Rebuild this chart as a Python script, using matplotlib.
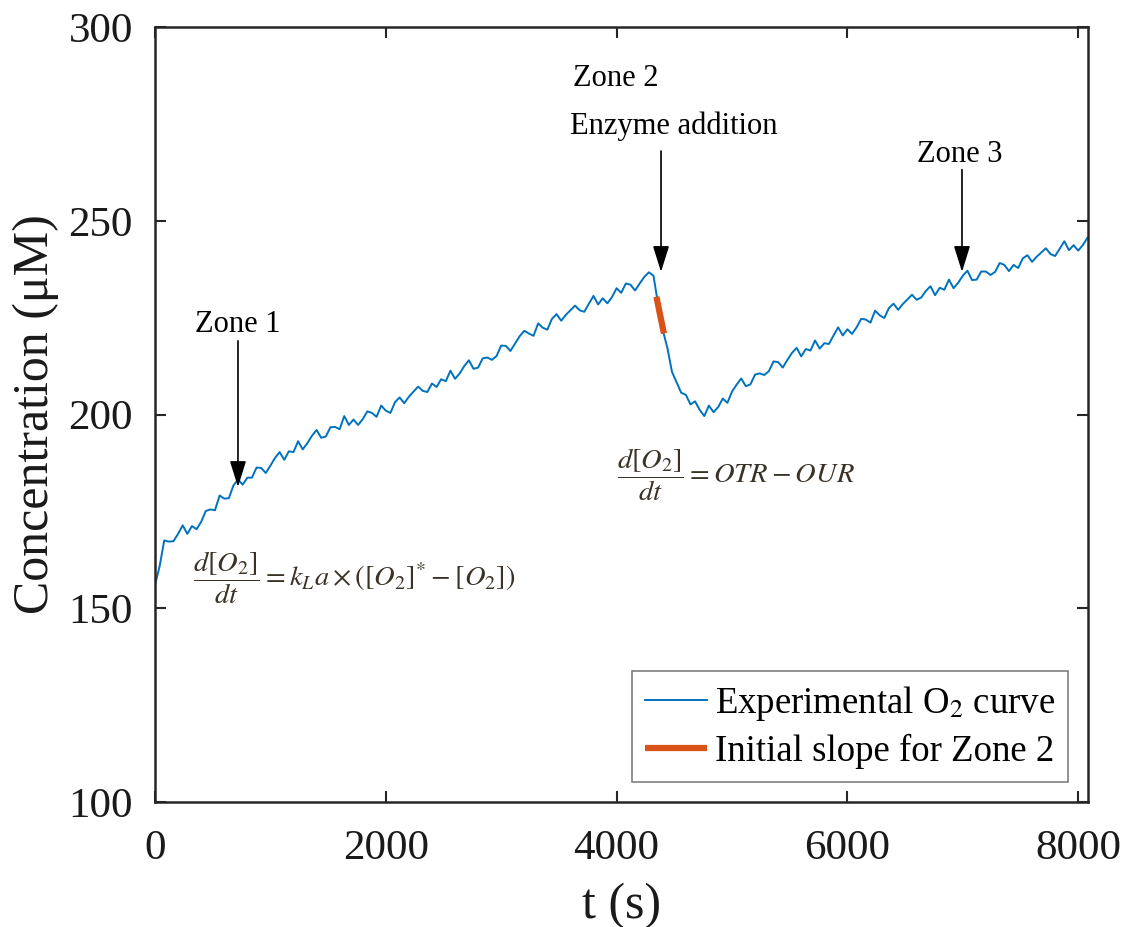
import numpy as np
import matplotlib
matplotlib.use("Agg")
import matplotlib.pyplot as plt

# ---------------- data ----------------
t_step = 40
o2_conc = [
    156.0, 160.8, 167.5, 167.2, 167.3, 169.2, 171.4, 169.2, 171.2, 170.4,
    172.3, 175.1, 175.5, 175.3, 179.1, 178.3, 178.4, 181.7, 183.2, 181.9,
    183.7, 183.7, 186.3, 186.2, 184.9, 186.8, 188.8, 190.3, 188.3, 190.5,
    190.3, 193.1, 191.0, 192.6, 194.5, 196.0, 194.0, 194.3, 196.7, 196.8,
    196.2, 199.6, 197.3, 198.7, 197.3, 198.8, 200.8, 200.4, 199.4, 202.3,
    201.0, 200.4, 203.2, 204.4, 202.9, 204.6, 205.9, 207.2, 206.1, 205.8,
    208.0, 207.1, 209.1, 208.6, 211.3, 209.2, 210.6, 212.5, 214.0, 211.8,
    212.1, 214.5, 214.7, 214.1, 215.1, 217.8, 217.7, 216.4, 218.3, 220.2,
    221.6, 220.9, 220.3, 223.5, 222.4, 221.9, 224.7, 225.9, 224.2, 225.7,
    226.9, 228.1, 226.9, 226.5, 228.6, 230.6, 228.4, 230.0, 228.7, 230.3,
    232.6, 231.4, 233.8, 233.5, 232.0, 233.8, 235.5, 236.7, 235.8, 228.3,
    221.8, 217.2, 211.0, 208.3, 205.6, 205.1, 202.6, 203.4, 201.2, 199.6,
    202.3, 200.6, 201.9, 204.1, 203.0, 205.9, 207.7, 209.3, 207.3, 207.8,
    210.3, 210.6, 210.2, 211.2, 213.7, 213.5, 212.1, 214.1, 215.9, 217.2,
    215.0, 216.9, 216.5, 219.1, 217.0, 218.4, 218.2, 220.4, 222.5, 220.4,
    222.0, 220.8, 222.5, 224.7, 224.5, 223.7, 226.8, 225.6, 224.9, 227.5,
    228.6, 227.0, 228.5, 229.7, 230.9, 229.6, 230.2, 231.9, 233.1, 230.8,
    232.7, 232.2, 234.8, 232.6, 234.0, 235.8, 237.1, 234.7, 234.8, 236.9,
    236.9, 236.0, 236.8, 239.1, 238.6, 237.0, 238.6, 237.8, 240.3, 241.1,
    239.4, 240.7, 241.8, 242.9, 241.4, 240.9, 242.8, 244.7, 242.4, 243.7,
    242.3, 243.7, 245.6,
]
t_sec = np.arange(len(o2_conc)) * t_step

slope_t = [4345, 4410]
slope_y = [230.4, 220.9]

zone_labels = ["Zone 1", "Zone 2", "Enzyme addition", "Zone 3"]
x_ticks = [0, 2000, 4000, 6000, 8000]
y_ticks = [100, 150, 200, 250, 300]

# ---------------- style ----------------
plt.rcParams['font.family'] = ['Liberation Serif', 'DejaVu Serif']
plt.rcParams['mathtext.fontset'] = 'stix'

fig = plt.figure(figsize=(11.25, 9.27), dpi=100)
ax = fig.add_axes([155/1125, 1 - 802/927, (1088 - 155)/1125, (802 - 27)/927])

blue = '#0072BD'
orange = '#D95319'

ax.plot(t_sec, o2_conc, color=blue, lw=1.4, label=r'Experimental O$_2$ curve')
ax.plot(slope_t, slope_y, color=orange, lw=4.5, solid_capstyle='butt',
        label='Initial slope for Zone 2')

ax.set_xlim(0, 8085)
ax.set_ylim(100, 300)
ax.set_xticks(x_ticks)
ax.set_yticks(y_ticks)
ax.tick_params(direction='in', length=8, width=1.5, top=True, right=True,
               labelsize=31, color='#262626', labelcolor='#1a1a1a')
ax.tick_params(axis='x', pad=20)
ax.tick_params(axis='y', pad=16)
for sp in ax.spines.values():
    sp.set_linewidth(1.8)
    sp.set_color('#262626')

ax.set_xlabel('t (s)', fontsize=36, color='#1a1a1a', labelpad=10)
ax.set_ylabel('Concentration (μM)', fontsize=36, color='#1a1a1a', labelpad=7)

leg = ax.legend(loc='lower right', fontsize=26.5, frameon=True, fancybox=False,
                framealpha=1, edgecolor='#7f7f7f', handlelength=1.7,
                borderaxespad=0.55, labelspacing=0.3, handletextpad=0.2,
                borderpad=0.35)
leg.get_frame().set_linewidth(1.2)

# annotations
txt_kw = dict(fontsize=22, color='black')
ax.text(719, 223.3, zone_labels[0], ha='center', va='center', **txt_kw)
ax.text(3620, 286.6, zone_labels[1], ha='left', va='center', **txt_kw)
ax.text(3595, 274.3, zone_labels[2], ha='left', va='center', **txt_kw)
ax.text(6970, 267.2, zone_labels[3], ha='center', va='center', **txt_kw)

arrow_kw = dict(arrowstyle='-|>,head_length=0.8,head_width=0.25', color='black',
                lw=1.2, shrinkA=0, shrinkB=0, mutation_scale=20)
ax.annotate('', xy=(719, 181.3), xytext=(719, 219.0), arrowprops=arrow_kw)
ax.annotate('', xy=(4385, 236.8), xytext=(4385, 268.0), arrowprops=arrow_kw)
ax.annotate('', xy=(6993, 236.8), xytext=(6993, 263.2), arrowprops=arrow_kw)

eq_color = '#3a3226'
ax.text(330, 157.8,
        r'$\dfrac{d\left[O_2\right]}{dt}=k_L a\times\left(\left[O_2\right]^{*}-\left[O_2\right]\right)$',
        ha='left', va='center', fontsize=20.5, color=eq_color)
ax.text(4005, 184.4, r'$\dfrac{d\left[O_2\right]}{dt}=OTR-OUR$',
        ha='left', va='center', fontsize=20.5, color=eq_color)

fig.savefig('out.png', dpi=100)
